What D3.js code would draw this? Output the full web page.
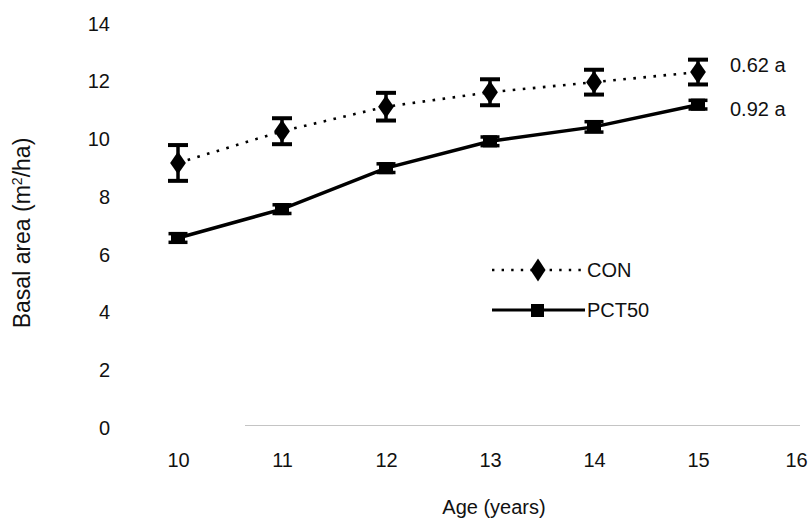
<!DOCTYPE html>
<html>
<head>
<meta charset="utf-8">
<script src="https://cdn.jsdelivr.net/npm/d3@7"></script>
<style>
  html, body { margin: 0; padding: 0; background: #fff; }
  svg { display: block; }
  text { font-family: "Liberation Sans", Arial, sans-serif; fill: #111; }
</style>
</head>
<body>
<svg id="chart" width="812" height="521"></svg>
<script>
// ---- data ----
const years = [10, 11, 12, 13, 14, 15];
const conValues = [9.15, 10.25, 11.1, 11.6, 11.95, 12.3];
const conErrors = [0.62, 0.45, 0.48, 0.45, 0.43, 0.43];
const pctValues = [6.55, 7.55, 8.97, 9.9, 10.4, 11.17];
const pctErrors = [0.15, 0.15, 0.15, 0.15, 0.18, 0.15];
const xTicks = [10, 11, 12, 13, 14, 15, 16];
const yTicks = [0, 2, 4, 6, 8, 10, 12, 14];
const seriesNames = ["CON", "PCT50"];
const endLabels = ["0.62 a", "0.92 a"];

// ---- layout ----
const svg = d3.select("#chart");
const x = d3.scaleLinear().domain([10, 16]).range([178, 802]);
const y = d3.scaleLinear().domain([0, 14]).range([427, 23]);
const fs = 20;

// faint baseline
svg.append("line")
  .attr("x1", 245).attr("x2", 800)
  .attr("y1", y(0) - 1.5).attr("y2", y(0) - 1.5)
  .attr("stroke", "#c4c4c4").attr("stroke-width", 1);

// y axis
const yAxis = svg.append("g").attr("transform", "translate(110,0)")
  .call(d3.axisLeft(y).tickValues(yTicks).tickSize(0).tickPadding(0).tickFormat(d3.format("d")));
yAxis.select(".domain").remove();
yAxis.selectAll("text").attr("font-size", fs).attr("font-family", "Liberation Sans, Arial, sans-serif")
  .attr("fill", "#111").attr("dy", "0.36em");

// x axis
const xAxis = svg.append("g").attr("transform", "translate(0,460)")
  .call(d3.axisBottom(x).tickValues(xTicks).tickSize(0).tickPadding(0).tickFormat(d3.format("d")));
xAxis.select(".domain").remove();
xAxis.selectAll("text").attr("font-size", fs).attr("font-family", "Liberation Sans, Arial, sans-serif")
  .attr("fill", "#111").attr("dy", "0.36em")
  .attr("dx", d => d === 16 ? -6 : 0);

// axis titles
svg.append("text")
  .attr("x", 494).attr("y", 507).attr("dy", "0.36em")
  .attr("text-anchor", "middle").attr("font-size", fs)
  .text("Age (years)");

const yt = svg.append("text")
  .attr("transform", "translate(22,233) rotate(-90)")
  .attr("dy", "0.36em")
  .attr("text-anchor", "middle").attr("font-size", 23);
yt.append("tspan").text("Basal area (m");
yt.append("tspan").attr("baseline-shift", "super").attr("font-size", 14).text("2");
yt.append("tspan").text("/ha)");

// lines
const conData = years.map((d, i) => ({ x: d, y: conValues[i], e: conErrors[i] }));
const pctData = years.map((d, i) => ({ x: d, y: pctValues[i], e: pctErrors[i] }));
const line = d3.line().x(d => x(d.x)).y(d => y(d.y));

svg.append("path").datum(pctData).attr("d", line)
  .attr("fill", "none").attr("stroke", "#000").attr("stroke-width", 3.5);
svg.append("path").datum(conData).attr("d", line)
  .attr("fill", "none").attr("stroke", "#000").attr("stroke-width", 2.6)
  .attr("stroke-dasharray", "2.6,7.5");

// error bars
function errorBars(data, capW, capT) {
  const g = svg.append("g");
  data.forEach(d => {
    g.append("line").attr("x1", x(d.x)).attr("x2", x(d.x))
      .attr("y1", y(d.y - d.e)).attr("y2", y(d.y + d.e))
      .attr("stroke", "#000").attr("stroke-width", 3.5);
    [d.y - d.e, d.y + d.e].forEach(v => {
      g.append("line").attr("x1", x(d.x) - capW / 2).attr("x2", x(d.x) + capW / 2)
        .attr("y1", y(v)).attr("y2", y(v))
        .attr("stroke", "#000").attr("stroke-width", capT);
    });
  });
}
errorBars(conData, 20, 4);
errorBars(pctData, 19, 3.5);

// markers
const diamond = d3.symbol().type(d3.symbolDiamond).size(150);
svg.append("g").selectAll("path").data(conData).join("path")
  .attr("transform", d => `translate(${x(d.x)},${y(d.y)}) scale(1.2,1)`)
  .attr("d", diamond).attr("fill", "#000");
svg.append("g").selectAll("rect").data(pctData).join("rect")
  .attr("x", d => x(d.x) - 7).attr("y", d => y(d.y) - 6)
  .attr("width", 14).attr("height", 12).attr("fill", "#000");

// end labels
svg.append("text").attr("x", 730).attr("y", y(conValues[5]) - 7).attr("dy", "0.36em")
  .attr("font-size", fs).text(endLabels[0]);
svg.append("text").attr("x", 730).attr("y", y(pctValues[5]) + 4).attr("dy", "0.36em")
  .attr("font-size", fs).text(endLabels[1]);

// legend
const lg = svg.append("g");
lg.append("line").attr("x1", 492).attr("x2", 582).attr("y1", 270).attr("y2", 270)
  .attr("stroke", "#000").attr("stroke-width", 2.4).attr("stroke-dasharray", "2.4,7.2");
lg.append("path").attr("transform", "translate(538,270) scale(1.15,1)")
  .attr("d", diamond).attr("fill", "#000");
lg.append("text").attr("x", 587).attr("y", 270).attr("dy", "0.36em").attr("font-size", fs).text(seriesNames[0]);
lg.append("line").attr("x1", 492).attr("x2", 585).attr("y1", 310).attr("y2", 310)
  .attr("stroke", "#000").attr("stroke-width", 3);
lg.append("rect").attr("x", 531).attr("y", 304).attr("width", 13).attr("height", 13).attr("fill", "#000");
lg.append("text").attr("x", 587).attr("y", 310).attr("dy", "0.36em").attr("font-size", fs).text(seriesNames[1]);
</script>
</body>
</html>
